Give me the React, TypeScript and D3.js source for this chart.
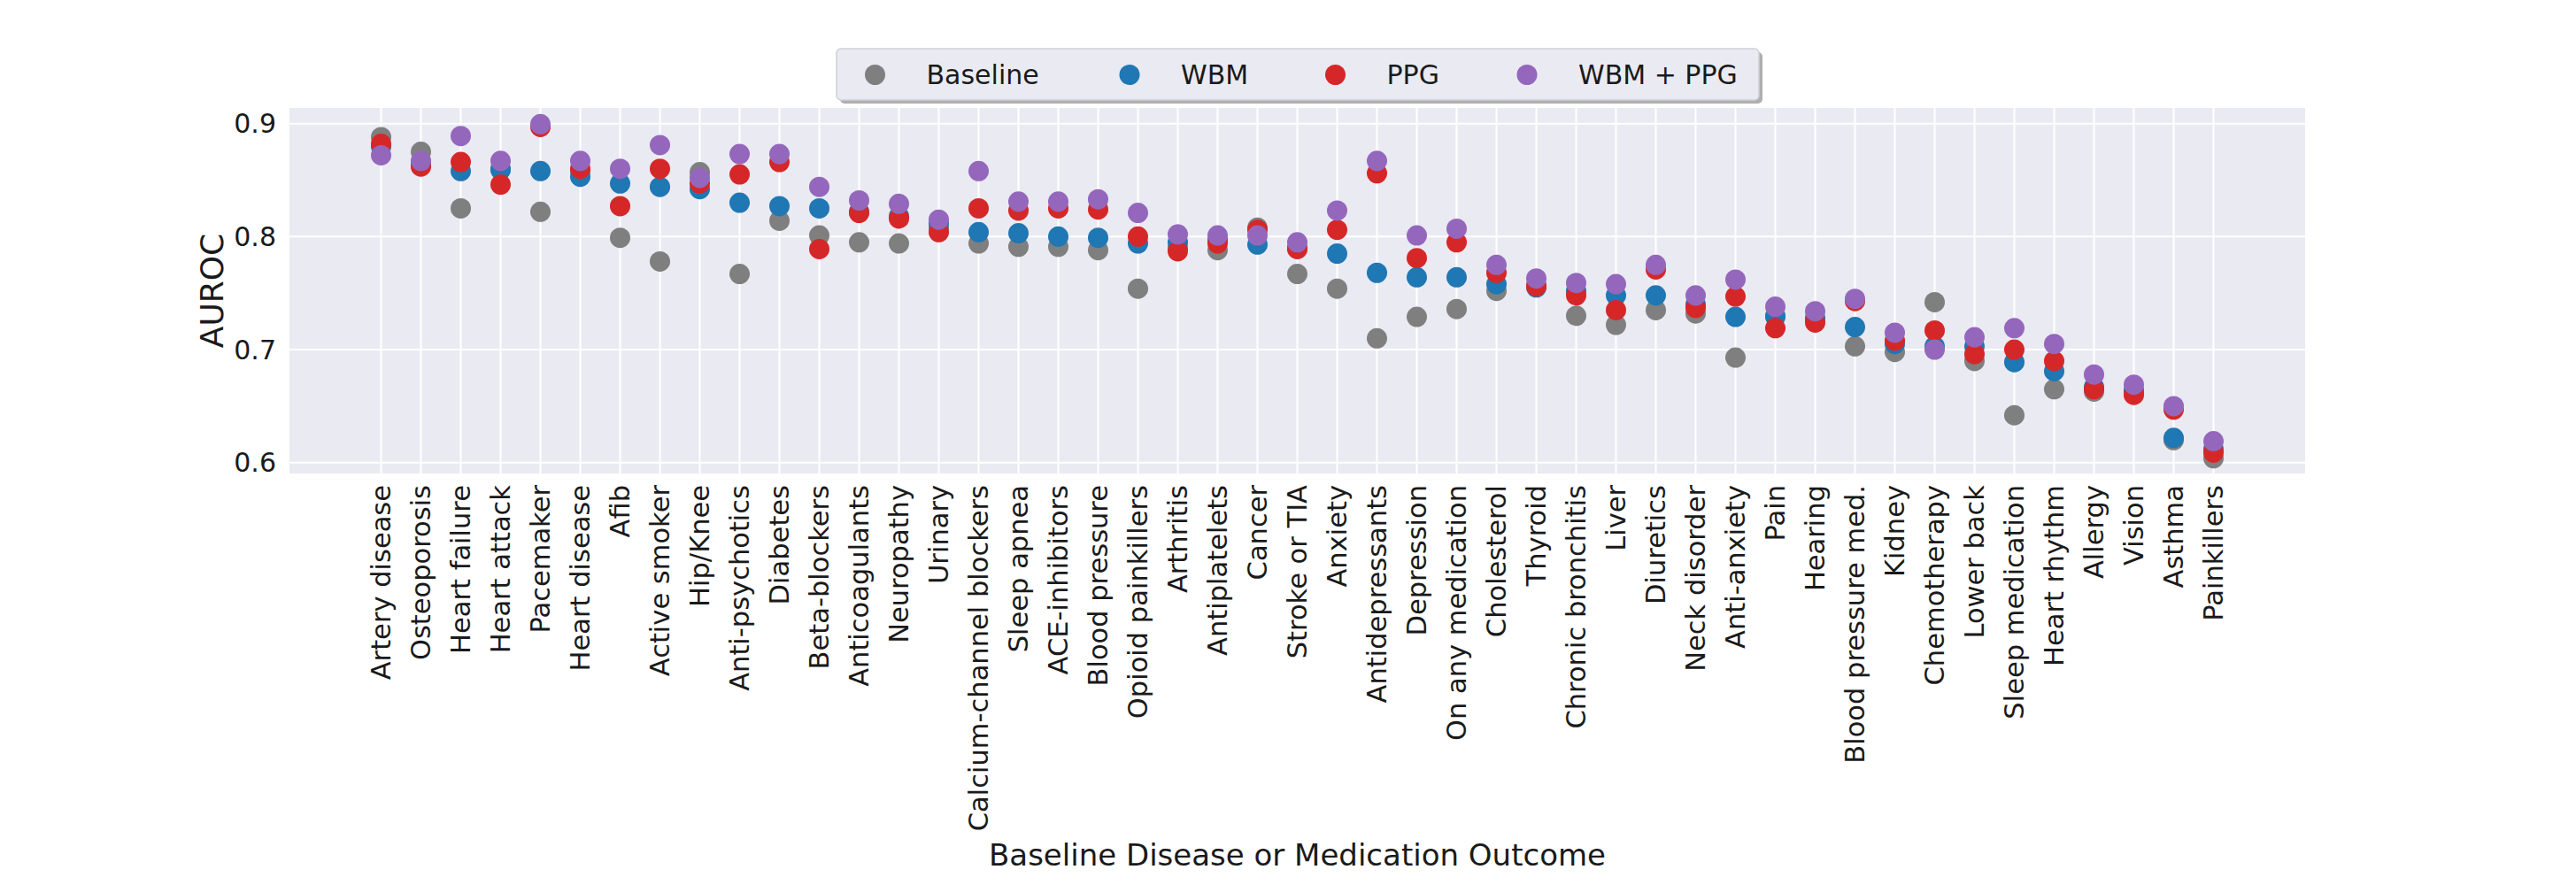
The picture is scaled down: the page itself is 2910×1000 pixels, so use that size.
import React from "react";
import * as d3 from "d3";

const categories = [
  "Artery disease", "Osteoporosis", "Heart failure", "Heart attack", "Pacemaker",
  "Heart disease", "Afib", "Active smoker", "Hip/Knee", "Anti-psychotics",
  "Diabetes", "Beta-blockers", "Anticoagulants", "Neuropathy", "Urinary",
  "Calcium-channel blockers", "Sleep apnea", "ACE-inhibitors", "Blood pressure",
  "Opioid painkillers", "Arthritis", "Antiplatelets", "Cancer", "Stroke or TIA",
  "Anxiety", "Antidepressants", "Depression", "On any medication", "Cholesterol",
  "Thyroid", "Chronic bronchitis", "Liver", "Diuretics", "Neck disorder",
  "Anti-anxiety", "Pain", "Hearing", "Blood pressure med.", "Kidney",
  "Chemotherapy", "Lower back", "Sleep medication", "Heart rhythm", "Allergy",
  "Vision", "Asthma", "Painkillers",
];

const baseline = [
  0.888, 0.875, 0.825, 0.860, 0.822, 0.858, 0.799, 0.778, 0.857, 0.767,
  0.814, 0.801, 0.795, 0.794, 0.808, 0.794, 0.791, 0.791, 0.788, 0.754,
  0.790, 0.788, 0.808, 0.767, 0.754, 0.710, 0.729, 0.736, 0.752, 0.757,
  0.730, 0.722, 0.735, 0.732, 0.693, 0.730, 0.726, 0.703, 0.698, 0.742,
  0.690, 0.642, 0.665, 0.663, 0.662, 0.620, 0.604,
];

const wbm = [
  0.880, 0.864, 0.858, 0.859, 0.858, 0.853, 0.847, 0.844, 0.842, 0.830,
  0.827, 0.825, 0.822, 0.818, 0.812, 0.804, 0.803, 0.800, 0.799, 0.794,
  0.795, 0.797, 0.793, 0.790, 0.785, 0.768, 0.764, 0.764, 0.758, 0.755,
  0.752, 0.748, 0.748, 0.740, 0.729, 0.729, 0.728, 0.720, 0.705, 0.703,
  0.703, 0.689, 0.681, 0.667, 0.664, 0.622, 0.612,
];

const ppg = [
  0.882, 0.862, 0.866, 0.846, 0.897, 0.860, 0.827, 0.860, 0.847, 0.855,
  0.866, 0.789, 0.821, 0.816, 0.804, 0.825, 0.823, 0.825, 0.824, 0.800,
  0.787, 0.794, 0.806, 0.789, 0.806, 0.856, 0.781, 0.795, 0.768, 0.756,
  0.748, 0.735, 0.771, 0.737, 0.747, 0.719, 0.724, 0.743, 0.708, 0.717,
  0.696, 0.700, 0.690, 0.665, 0.660, 0.647, 0.609,
];

const wbmPpg = [
  0.872, 0.867, 0.889, 0.867, 0.8995, 0.867, 0.860, 0.881, 0.852, 0.873,
  0.873, 0.844, 0.832, 0.829, 0.815, 0.858, 0.831, 0.831, 0.833, 0.821,
  0.802, 0.801, 0.801, 0.795, 0.823, 0.867, 0.801, 0.807, 0.775, 0.763,
  0.759, 0.758, 0.775, 0.748, 0.762, 0.738, 0.734, 0.745, 0.715, 0.700,
  0.711, 0.719, 0.705, 0.678, 0.669, 0.650, 0.619,
];

const seriesNames = ["Baseline", "WBM", "PPG", "WBM + PPG"];
const seriesColors = ["#7f7f7f", "#1f77b4", "#d62728", "#9467bd"];
const seriesValues = [baseline, wbm, ppg, wbmPpg];
const yTicks = [0.6, 0.7, 0.8, 0.9];

const W = 2910;
const H = 1000;
const plot = { left: 327, right: 2604, top: 122, bottom: 535 };
const FONT = "'DejaVu Sans', sans-serif";

export default function App() {
  const n = categories.length;
  const x = d3
    .scaleLinear()
    .domain([-0.05 * (n - 1), n - 1 + 0.05 * (n - 1)])
    .range([plot.left, plot.right]);
  const y = d3.scaleLinear().domain([0.5905, 0.9138]).range([plot.bottom, plot.top]);

  const legendX = 945;
  const legendY = 55;
  const legendW = 1042;
  const legendH = 58;
  const legendMarkerX = [988.5, 1276, 1508.5, 1725];
  const legendTextGap = 58;

  return (
    <svg
      width={W}
      height={H}
      style={{ position: "absolute", left: 0, top: 0, display: "block", background: "#fff" }}
      fontFamily={FONT}
    >
      <rect
        x={plot.left}
        y={plot.top}
        width={plot.right - plot.left}
        height={plot.bottom - plot.top}
        fill="#eaeaf2"
      />
      {yTicks.map((t) => (
        <line
          key={"hy" + t}
          x1={plot.left}
          x2={plot.right}
          y1={y(t)}
          y2={y(t)}
          stroke="#fff"
          strokeWidth={2}
        />
      ))}
      {categories.map((c, i) => (
        <line
          key={"vx" + c}
          x1={x(i)}
          x2={x(i)}
          y1={plot.top}
          y2={plot.bottom}
          stroke="#fff"
          strokeWidth={2}
        />
      ))}
      {seriesValues.map((vals, si) => (
        <g key={seriesNames[si]} fill={seriesColors[si]}>
          {vals.map((v, i) => (
            <circle key={i} cx={x(i)} cy={y(v)} r={11.5} />
          ))}
        </g>
      ))}
      {yTicks.map((t) => (
        <text
          key={"yl" + t}
          x={plot.left - 15}
          y={y(t)}
          textAnchor="end"
          dominantBaseline="central"
          fontSize={30}
          fill="#1a1a1a"
        >
          {d3.format(".1f")(t)}
        </text>
      ))}
      {categories.map((c, i) => (
        <text
          key={"xl" + c}
          x={x(i)}
          y={548}
          transform={`rotate(-90, ${x(i)}, 548)`}
          textAnchor="end"
          dominantBaseline="central"
          fontSize={30.5}
          fill="#1a1a1a"
        >
          {c}
        </text>
      ))}
      <text
        x={239}
        y={(plot.top + plot.bottom) / 2}
        transform={`rotate(-90, 239, ${(plot.top + plot.bottom) / 2})`}
        textAnchor="middle"
        dominantBaseline="central"
        fontSize={36}
        fill="#1a1a1a"
      >
        AUROC
      </text>
      <text
        x={(plot.left + plot.right) / 2}
        y={978}
        textAnchor="middle"
        fontSize={34}
        fill="#1a1a1a"
      >
        Baseline Disease or Medication Outcome
      </text>
      <rect
        x={legendX + 4}
        y={legendY + 4}
        width={legendW}
        height={legendH}
        rx={5}
        fill="#7a7a7a"
        opacity={0.6}
      />
      <rect
        x={legendX}
        y={legendY}
        width={legendW}
        height={legendH}
        rx={5}
        fill="#eaeaf2"
        stroke="#cfcfd6"
        strokeWidth={1.5}
      />
      {seriesNames.map((s, si) => (
        <g key={"lg" + s}>
          <circle cx={legendMarkerX[si]} cy={legendY + legendH / 2 + 0.5} r={11.5} fill={seriesColors[si]} />
          <text
            x={legendMarkerX[si] + legendTextGap}
            y={legendY + legendH / 2}
            dominantBaseline="central"
            fontSize={30}
            fill="#1a1a1a"
          >
            {s}
          </text>
        </g>
      ))}
    </svg>
  );
}
